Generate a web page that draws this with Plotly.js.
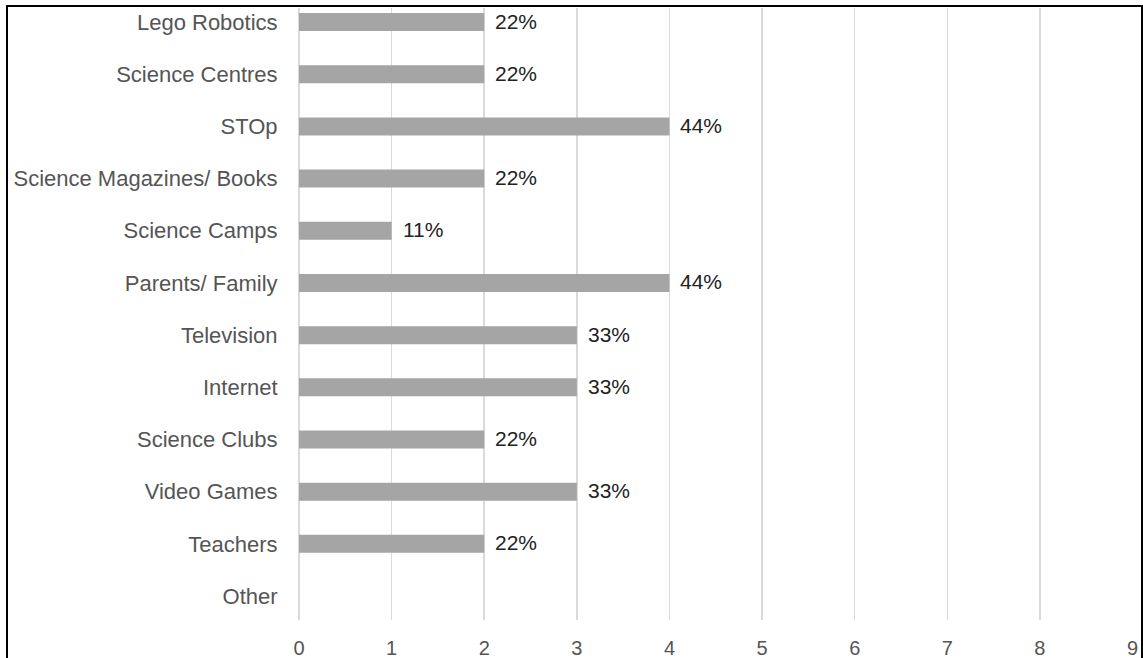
<!DOCTYPE html>
<html>
<head>
<meta charset="utf-8">
<script src="https://cdn.plot.ly/plotly-3.0.1.min.js"></script>
<style>
html,body{margin:0;padding:0;background:#fff;}
#chart{width:1143px;height:658px;position:absolute;left:0;top:0;}
#frame{position:absolute;left:6px;top:5px;width:1133px;height:700px;border-top:2px solid #000;border-left:2px solid #000;border-right:2px solid #000;pointer-events:none;}
</style>
</head>
<body>
<div id="chart"></div>
<div id="frame"></div>
<script>
var categories = ["Lego Robotics","Science Centres","STOp","Science Magazines/ Books","Science Camps","Parents/ Family","Television","Internet","Science Clubs","Video Games","Teachers","Other"];
var counts = [2,2,4,2,1,4,3,3,2,3,2,0];
var percentLabels = ["22%","22%","44%","22%","11%","44%","33%","33%","22%","33%","22%",""];
var xTicks = [0,1,2,3,4,5,6,7,8,9];

var trace = {
  type:'bar', orientation:'h',
  y: categories, x: counts,
  marker:{color:'#a5a5a5'},
  hoverinfo:'none'
};
var annotations = [];
for (var i = 0; i < categories.length; i++) {
  if (!percentLabels[i]) continue;
  annotations.push({x:counts[i], y:categories[i], xref:'x', yref:'y', text:percentLabels[i],
    showarrow:false, xanchor:'left', yanchor:'middle', xshift:9, yshift:1,
    font:{family:'Liberation Sans, Arial, sans-serif', size:21, color:'#222'}});
}
var layout = {
  width:1143, height:658,
  margin:{l:299, r:10, t:8, b:38},
  paper_bgcolor:'#fff', plot_bgcolor:'#fff',
  showlegend:false,
  bargap:0.655,
  annotations: annotations,
  font:{family:'Liberation Sans, Arial, sans-serif', size:22, color:'#555'},
  xaxis:{range:[0,9.005], tickvals:xTicks, showgrid:true, gridcolor:'#dadada', gridwidth:1.5,
         zeroline:true, zerolinecolor:'#dadada', zerolinewidth:1.5, showline:false,
         ticks:'outside', ticklen:10, tickcolor:'rgba(0,0,0,0)', tickfont:{size:20,color:'#555'}},
  yaxis:{type:'category', categoryorder:'array', categoryarray:categories,
         range:[11.46,-0.27], showgrid:false, zeroline:false, showline:false,
         ticks:'outside', ticklen:16, tickcolor:'rgba(0,0,0,0)', tickfont:{size:22,color:'#555'}}
};
Plotly.newPlot('chart',[trace],layout,{staticPlot:true});
</script>
</body>
</html>
